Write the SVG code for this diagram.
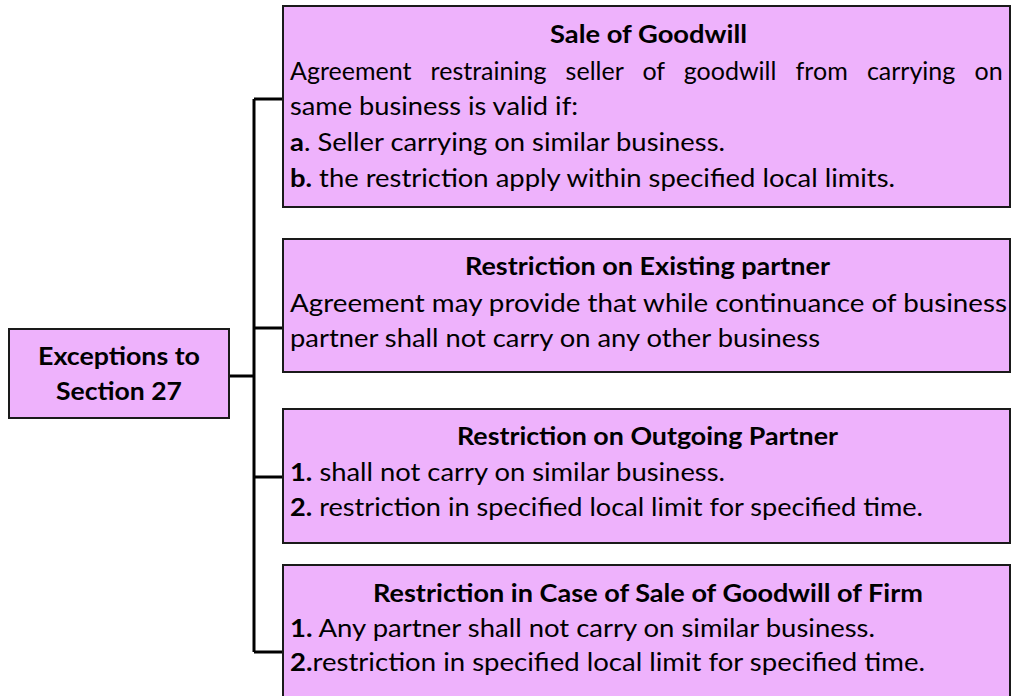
<svg xmlns="http://www.w3.org/2000/svg" width="1013" height="696" viewBox="0 0 1013 696">
<style>
.box{fill:#EEB2FC;stroke:#1a1a1a;stroke-width:2}
.t{font-family:Lato,"Liberation Sans",sans-serif;font-size:25px;fill:#000}
.b{font-weight:bold}
.c{text-anchor:middle}
.ln{fill:none;stroke:#000;stroke-width:3}
</style>
<rect width="1013" height="696" fill="#fff"/>
<g id="connectors">
<path class="ln" d="M229,376 H254 M254,99 V652 M254,99 H283 M254,328 H283 M254,477 H283 M254,652 H283"/>
</g>
<g id="root">
<rect class="box" x="9" y="329" width="220" height="89"/>
<text class="t b c" x="119" y="365" textLength="162" lengthAdjust="spacingAndGlyphs">Exceptions to</text>
<text class="t b c" x="119" y="400" textLength="126" lengthAdjust="spacingAndGlyphs">Section 27</text>
</g>
<g id="sale-of-goodwill">
<rect class="box" x="283" y="6" width="727" height="201"/>
<text class="t b" x="550" y="43" textLength="197" lengthAdjust="spacingAndGlyphs">Sale of Goodwill</text>
<text class="t" x="290" y="80" word-spacing="12.8">Agreement restraining seller of goodwill from carrying on</text>
<text class="t" x="290" y="115" textLength="288" lengthAdjust="spacingAndGlyphs">same business is valid if:</text>
<text class="t" x="290" y="151" textLength="435" lengthAdjust="spacingAndGlyphs"><tspan class="b">a</tspan>. Seller carrying on similar business.</text>
<text class="t" x="290" y="187" textLength="605" lengthAdjust="spacingAndGlyphs"><tspan class="b">b.</tspan> the restriction apply within specified local limits.</text>
</g>
<g id="existing-partner">
<rect class="box" x="283" y="239" width="727" height="133"/>
<text class="t b" x="465" y="275" textLength="365" lengthAdjust="spacingAndGlyphs">Restriction on Existing partner</text>
<text class="t" x="290" y="312" textLength="717" lengthAdjust="spacingAndGlyphs">Agreement may provide that while continuance of business</text>
<text class="t" x="290" y="347" textLength="530" lengthAdjust="spacingAndGlyphs">partner shall not carry on any other business</text>
</g>
<g id="outgoing-partner">
<rect class="box" x="283" y="409" width="727" height="134"/>
<text class="t b" x="457" y="445" textLength="381" lengthAdjust="spacingAndGlyphs">Restriction on Outgoing Partner</text>
<text class="t" x="290" y="481" textLength="435" lengthAdjust="spacingAndGlyphs"><tspan class="b">1.</tspan> shall not carry on similar business.</text>
<text class="t" x="290" y="516" textLength="633" lengthAdjust="spacingAndGlyphs"><tspan class="b">2.</tspan> restriction in specified local limit for specified time.</text>
</g>
<g id="goodwill-of-firm">
<rect class="box" x="283" y="565" width="727" height="140"/>
<text class="t b" x="373" y="602" textLength="550" lengthAdjust="spacingAndGlyphs">Restriction in Case of Sale of Goodwill of Firm</text>
<text class="t" x="290" y="637" textLength="585" lengthAdjust="spacingAndGlyphs"><tspan class="b">1.</tspan> Any partner shall not carry on similar business.</text>
<text class="t" x="290" y="671" textLength="635" lengthAdjust="spacingAndGlyphs"><tspan class="b">2.</tspan>restriction in specified local limit for specified time.</text>
</g>
</svg>
